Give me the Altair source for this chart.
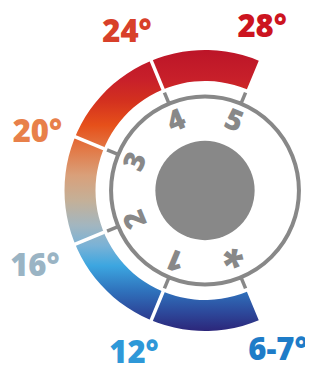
import math
import altair as alt
import pandas as pd

W, H = 297, 361
CX, CY = 197, 182.5

# ---- data ----
tick_angles = [157.5, 202.5, 247.5, 292.5, 337.5, 22.5]
inner_labels = ["*", "1", "2", "3", "4", "5"]
gap_angles = [202.5, 247.5, 292.5, 337.5]
arc_span = [157.5, 382.5]
outer_labels = ["6-7°", "12°", "16°", "20°", "24°", "28°"]
outer_angles = [155.7, 203.3, 245.5, 288.7, 333.5, 19.5]
outer_radii = [177, 179.6, 187, 177, 175, 171]
outer_colors = ["#1e7cc8", "#2e98d8", "#9ab4c4", "#e8804a", "#d8402a", "#cc1420"]

grad_stops = [
    (0.0, "#bc1528"), (0.107, "#c8202a"), (0.179, "#d3301f"), (0.268, "#e6501a"),
    (0.357, "#e27a48"), (0.446, "#d9a07a"), (0.536, "#c4b098"), (0.625, "#a2b6c0"),
    (0.696, "#7ab2d6"), (0.768, "#3ca6e0"), (0.857, "#2f72bc"), (0.929, "#2d4b9d"),
    (1.0, "#2c267a"),
]
gradient = {
    "gradient": "linear", "x1": 0, "y1": 0, "x2": 0, "y2": 1,
    "stops": [{"offset": o, "color": c} for o, c in grad_stops],
}

GRAY = "#888888"
FONT = "Open Sans"

xs = alt.Scale(domain=[-CX, W - CX], nice=False, zero=False)
ys = alt.Scale(domain=[CY - H, CY], nice=False, zero=False)
ts = alt.Scale(domain=[0, 360], range=[0, 2 * math.pi], nice=False, zero=False)

# outer gradient arc
arc_df = pd.DataFrame({"s": [arc_span[0]], "e": [arc_span[1]]})
arc = alt.Chart(arc_df).mark_arc(innerRadius=109.5, outerRadius=140.5, color=gradient).encode(
    theta=alt.Theta("s:Q", scale=ts, stack=None),
    theta2="e:Q",
    x=alt.value(CX), y=alt.value(CY),
)

# white gaps
gap_df = pd.DataFrame({"a": gap_angles})
gaps = alt.Chart(gap_df).mark_rule(color="white", strokeWidth=3.5).transform_calculate(
    x1="109 * sin(datum.a * PI / 180)", y1="109 * cos(datum.a * PI / 180)",
    x2="143 * sin(datum.a * PI / 180)", y2="143 * cos(datum.a * PI / 180)",
).encode(
    x=alt.X("x1:Q", scale=xs, axis=None), y=alt.Y("y1:Q", scale=ys, axis=None),
    x2="x2:Q", y2="y2:Q",
)

center_df = pd.DataFrame({"x": [0], "y": [0]})
ring = alt.Chart(center_df).mark_point(
    shape="circle", filled=False, size=math.pi * 106 ** 2, strokeWidth=4, color=GRAY, opacity=1
).encode(x=alt.X("x:Q", scale=xs, axis=None), y=alt.Y("y:Q", scale=ys, axis=None))

disc = alt.Chart(center_df).mark_point(
    shape="circle", filled=True, size=math.pi * 56 ** 2, color=GRAY, opacity=1, strokeWidth=0
).encode(x=alt.X("x:Q", scale=xs, axis=None), y=alt.Y("y:Q", scale=ys, axis=None))

tick_df = pd.DataFrame({"a": tick_angles})
ticks = alt.Chart(tick_df).mark_rule(color=GRAY, strokeWidth=3.5).transform_calculate(
    x1="93.5 * sin(datum.a * PI / 180)", y1="93.5 * cos(datum.a * PI / 180)",
    x2="106 * sin(datum.a * PI / 180)", y2="106 * cos(datum.a * PI / 180)",
).encode(
    x=alt.X("x1:Q", scale=xs, axis=None), y=alt.Y("y1:Q", scale=ys, axis=None),
    x2="x2:Q", y2="y2:Q",
)

inner_df = pd.DataFrame({"a": tick_angles, "t": inner_labels})
digits = alt.Chart(inner_df).transform_filter("datum.t != '*'").transform_calculate(
    px="75 * sin(datum.a * PI / 180)", py="75 * cos(datum.a * PI / 180)"
).mark_text(font=FONT, fontWeight=800, fontSize=29, color=GRAY, baseline="middle", align="center").encode(
    x=alt.X("px:Q", scale=xs, axis=None), y=alt.Y("py:Q", scale=ys, axis=None),
    text="t:N", angle=alt.Angle("a:Q", scale=None),
)

star = alt.Chart(inner_df).transform_filter("datum.t == '*'").transform_calculate(
    px="73 * sin(datum.a * PI / 180)", py="73 * cos(datum.a * PI / 180)"
).mark_text(font=FONT, fontWeight=800, fontSize=40, color=GRAY, baseline="middle", align="center", dy=8).encode(
    x=alt.X("px:Q", scale=xs, axis=None), y=alt.Y("py:Q", scale=ys, axis=None),
    text="t:N", angle=alt.Angle("a:Q", scale=None),
)

outer_df = pd.DataFrame({"a": outer_angles, "r": outer_radii, "t": outer_labels})
outer = alt.Chart(outer_df).transform_calculate(
    px="datum.r * sin(datum.a * PI / 180)", py="datum.r * cos(datum.a * PI / 180)"
).mark_text(font=FONT, fontWeight=800, fontSize=31, baseline="middle", align="center", dy=-1).encode(
    x=alt.X("px:Q", scale=xs, axis=None), y=alt.Y("py:Q", scale=ys, axis=None),
    text="t:N",
    color=alt.Color("t:N", scale=alt.Scale(domain=outer_labels, range=outer_colors), legend=None),
)

chart = alt.layer(arc, gaps, ring, ticks, disc, digits, star, outer).properties(
    width=W, height=H, padding=0, autosize=alt.AutoSizeParams(type="none")
).configure_view(stroke=None)

chart.save("out.html", embed_options={"renderer": "svg", "actions": False})
